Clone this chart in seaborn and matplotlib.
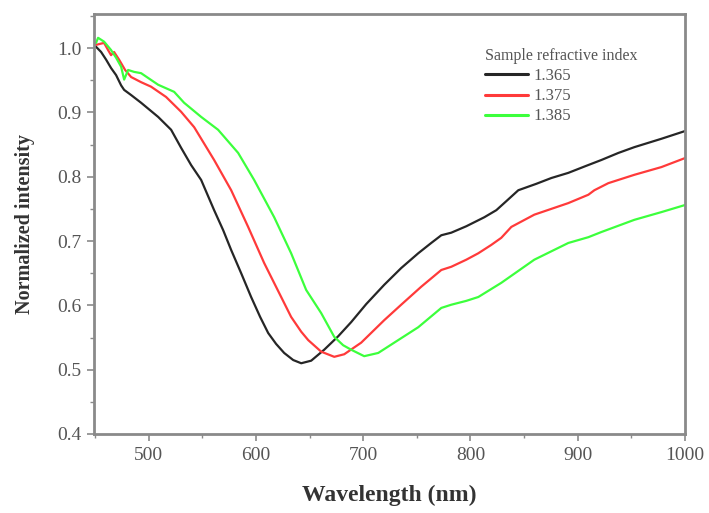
import matplotlib
matplotlib.use("Agg")
import matplotlib.pyplot as plt
import seaborn as sns
import pandas as pd
from matplotlib.ticker import MultipleLocator, FormatStrFormatter

# ---- data ----
wl_1365 = [450.9, 455.6, 460.3, 464.9, 469.6, 474.3, 477.1, 483.6, 492.9, 508.8, 520.9, 530.2,
           539.6, 548.9, 561.0, 569.4, 576.9, 586.2, 595.5, 603.9, 611.4, 618.8, 626.3, 634.7,
           642.2, 651.5, 663.6, 676.7, 688.8, 702.8, 719.6, 735.4, 751.3, 763.4, 772.8, 782.1,
           796.1, 812.9, 824.1, 833.4, 844.6, 861.4, 875.4, 891.2, 908.0, 922.0, 937.9, 952.8,
           978.0, 1000.0]
in_1365 = [1.002, 0.994, 0.982, 0.969, 0.958, 0.942, 0.935, 0.927, 0.915, 0.893, 0.873, 0.845,
           0.818, 0.795, 0.748, 0.717, 0.686, 0.650, 0.613, 0.582, 0.557, 0.540, 0.526, 0.515,
           0.510, 0.514, 0.531, 0.552, 0.574, 0.602, 0.632, 0.658, 0.681, 0.697, 0.709, 0.713,
           0.723, 0.737, 0.748, 0.762, 0.779, 0.789, 0.798, 0.806, 0.817, 0.826, 0.837, 0.846,
           0.859, 0.871]

wl_1375 = [450.9, 455.6, 458.4, 462.1, 464.9, 467.7, 472.4, 478.0, 483.6, 492.9, 502.2, 516.2,
           530.2, 542.4, 561.0, 576.9, 592.7, 607.6, 623.5, 632.8, 642.2, 648.7, 660.8, 673.0,
           682.3, 698.1, 719.6, 735.4, 754.1, 772.8, 782.1, 796.1, 807.3, 819.4, 828.7, 838.1,
           859.5, 891.2, 909.9, 915.5, 928.5, 952.8, 978.0, 1000.0]
in_1375 = [1.005, 1.007, 1.008, 0.997, 0.989, 0.994, 0.982, 0.966, 0.955, 0.947, 0.940, 0.924,
           0.901, 0.877, 0.826, 0.779, 0.722, 0.666, 0.613, 0.582, 0.559, 0.546, 0.528, 0.520,
           0.524, 0.542, 0.577, 0.601, 0.629, 0.655, 0.660, 0.671, 0.681, 0.694, 0.705, 0.722,
           0.741, 0.759, 0.772, 0.779, 0.790, 0.803, 0.815, 0.829]

wl_1385 = [450.9, 452.8, 458.4, 464.9, 469.6, 474.3, 477.1, 480.8, 486.4, 492.9, 508.8, 523.7,
           533.0, 548.9, 564.7, 583.4, 598.3, 617.0, 632.8, 646.8, 660.8, 673.0, 681.3, 688.8,
           700.9, 714.0, 728.9, 751.3, 772.8, 782.1, 796.1, 807.3, 828.7, 859.5, 891.2, 909.9,
           922.0, 952.8, 978.0, 1000.0]
in_1385 = [1.008, 1.016, 1.010, 0.997, 0.985, 0.971, 0.951, 0.966, 0.963, 0.961, 0.943, 0.932,
           0.915, 0.893, 0.873, 0.837, 0.795, 0.737, 0.681, 0.624, 0.588, 0.551, 0.538, 0.531,
           0.521, 0.526, 0.542, 0.566, 0.596, 0.601, 0.607, 0.613, 0.635, 0.671, 0.697, 0.706,
           0.714, 0.733, 0.745, 0.756]

series_labels = ["1.365", "1.375", "1.385"]
series_colors = ["#262626", "#ff3a3a", "#3cff3c"]
legend_title = "Sample refractive index"
x_label = "Wavelength (nm)"
y_label = "Normalized intensity"

frames = []
for lab, wl, iv in zip(series_labels, [wl_1365, wl_1375, wl_1385], [in_1365, in_1375, in_1385]):
    frames.append(pd.DataFrame({"wl": wl, "val": iv, "n": lab}))
df = pd.concat(frames, ignore_index=True)

sns.set_theme(style="white")
plt.rcParams["font.family"] = ["Liberation Serif", "DejaVu Serif"]

fig = plt.figure(figsize=(7.09, 5.13), dpi=100)
ax = fig.add_axes([94 / 709, 1 - 434 / 513, (685 - 94) / 709, (434 - 14) / 513])

sns.lineplot(data=df, x="wl", y="val", hue="n", palette=dict(zip(series_labels, series_colors)),
             sort=False, estimator=None, linewidth=1.6, ax=ax)

ax.set_xlim(449, 1000)
ax.set_ylim(0.4, 1.053)
ax.xaxis.set_major_locator(MultipleLocator(100))
ax.xaxis.set_minor_locator(MultipleLocator(50))
ax.yaxis.set_major_locator(MultipleLocator(0.1))
ax.yaxis.set_minor_locator(MultipleLocator(0.05))
ax.yaxis.set_major_formatter(FormatStrFormatter("%.1f"))

spine_col = "#8a8a8a"
for s in ax.spines.values():
    s.set_color(spine_col)
    s.set_linewidth(2.0)
ax.tick_params(axis="both", which="major", direction="out", length=5, width=1.2,
               color=spine_col, labelsize=14, labelcolor="#555555", pad=4,
               bottom=True, left=True, top=False, right=False)
ax.tick_params(axis="both", which="minor", direction="out", length=3, width=1.0,
               color=spine_col, bottom=True, left=True, top=False, right=False)

ax.set_xlabel(x_label, fontsize=17, fontweight="bold", color="#333333", labelpad=15)
ax.set_ylabel(y_label, fontsize=14.5, fontweight="bold", color="#333333", labelpad=16)

leg = ax.legend(title=legend_title, frameon=False, loc="upper left",
                bbox_to_anchor=((485 - 94) / 591, (434 - 48) / 420),
                fontsize=12, title_fontsize=11.5, handlelength=2.6, handletextpad=0.3,
                labelspacing=0.25, borderaxespad=0, borderpad=0)
leg._legend_box.align = "left"
for t in leg.get_texts():
    t.set_color("#555555")
leg.get_title().set_color("#555555")
for line in leg.get_lines():
    line.set_linewidth(2.2)

fig.savefig("out.png", dpi=100)
